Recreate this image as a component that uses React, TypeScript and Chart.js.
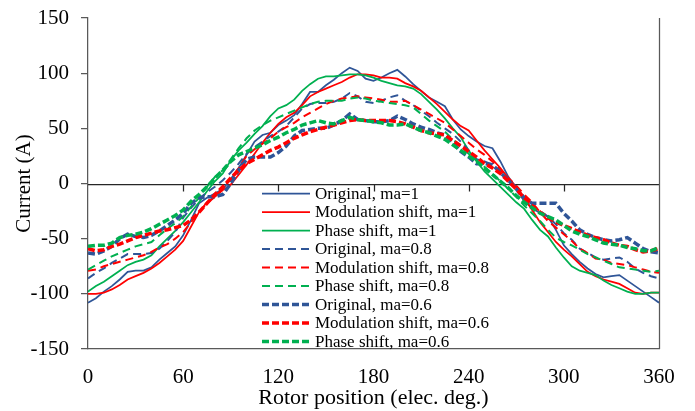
import React, { useEffect, useRef } from "react";
import { Chart, registerables } from "chart.js";

Chart.register(...registerables);

// Rotor position (elec. deg.)
const angles = [
  0, 5, 10, 15, 20, 25, 30, 35, 40, 45, 50, 55, 60, 65, 70, 75, 80, 85, 90, 95,
  100, 105, 110, 115, 120, 125, 130, 135, 140, 145, 150, 155, 160, 165, 170, 175,
  180, 185, 190, 195, 200, 205, 210, 215, 220, 225, 230, 235, 240, 245, 250, 255,
  260, 265, 270, 275, 280, 285, 290, 295, 300, 305, 310, 315, 320, 325, 330, 335,
  340, 345, 350, 355, 360,
];

const originalMa1 = [
  -108, -104, -98, -93, -87, -80, -79, -79, -76, -69, -63, -57, -47, -33, -18, -13, -9, -5, 4, 14,
  26, 38, 44, 46, 53, 57, 62, 72, 83, 83, 89, 94, 100, 105, 102, 95,
  93, 96, 100, 103, 97, 90, 84, 78, 74, 70, 58, 49, 43, 38, 34, 32,
  20, 6, -4, -16, -22, -27, -30, -42, -56, -64, -71, -77, -82, -85, -84, -83,
  -88, -93, -98, -103, -108,
];
const modulationMa1 = [
  -100, -100, -99, -96, -92, -87, -84, -81, -77, -72, -66, -60, -52, -39, -26, -17, -12, -6, -1, 8,
  17, 27, 37, 46, 54, 60, 64, 71, 79, 83, 86, 89, 92, 96, 99, 99,
  98, 96, 96, 95, 91, 88, 84, 78, 72, 65, 58, 52, 48, 39, 30, 22,
  14, 5, -3, -13, -24, -35, -44, -53, -60, -66, -73, -80, -84, -87, -89, -91,
  -95, -99, -100, -99, -99,
];
const phaseMa1 = [
  -98, -93, -89, -84, -79, -74, -71, -69, -65, -57, -50, -43, -35, -26, -17, -7, 2, 9, 21, 30,
  37, 45, 52, 61, 68, 71, 76, 84, 90, 95, 97, 97, 98, 99, 99, 98,
  96, 93, 91, 89, 88, 86, 81, 74, 67, 59, 50, 42, 30, 20, 11, 4,
  -3, -10, -17, -23, -33, -42, -48, -58, -67, -75, -79, -81, -83, -88, -92, -95,
  -98, -100, -100, -99, -99,
];
const originalMa08 = [
  -86, -81, -77, -72, -68, -64, -64, -64, -63, -59, -52, -44, -31, -22, -14, -8, -3, 3, 10, 18,
  27, 33, 38, 43, 47, 52, 60, 68, 72, 73, 73, 74, 77, 82, 79, 74,
  73, 75, 78, 80, 75, 71, 66, 61, 55, 50, 45, 38, 30, 22, 20, 17,
  10, 4, -3, -12, -20, -25, -30, -37, -45, -51, -59, -63, -67, -69, -68, -67,
  -71, -77, -81, -84, -86,
];
const modulationMa08 = [
  -79, -78, -75, -73, -71, -69, -67, -65, -62, -58, -55, -50, -44, -35, -26, -18, -12, -4, 4, 14,
  25, 31, 36, 41, 47, 51, 55, 60, 64, 68, 72, 75, 77, 78, 79, 78,
  77, 76, 74, 74, 75, 71, 67, 63, 59, 55, 49, 43, 37, 31, 26, 20,
  12, 5, -2, -10, -17, -26, -34, -40, -46, -52, -59, -63, -68, -69, -72, -73,
  -74, -76, -78, -80, -81,
];
const phaseMa08 = [
  -78, -74, -70, -66, -63, -60, -57, -55, -53, -47, -41, -36, -30, -21, -13, -3, 6, 12, 22, 32,
  41, 48, 53, 57, 60, 63, 66, 69, 72, 74, 75, 75, 75, 77, 78, 77,
  75, 74, 73, 72, 71, 69, 63, 57, 52, 47, 40, 34, 27, 21, 15, 9,
  2, -5, -12, -20, -27, -34, -42, -49, -53, -56, -60, -64, -67, -70, -73, -76,
  -77, -78, -79, -80, -79,
];
const originalMa06 = [
  -63, -64, -61, -57, -50, -46, -48, -49, -47, -43, -38, -33, -27, -18, -13, -12, -12, -10, 0, 12,
  22, 24, 24, 24, 28, 34, 43, 48, 49, 50, 50, 53, 57, 63, 58, 57,
  56, 56, 57, 61, 58, 54, 51, 49, 46, 44, 37, 29, 24, 18, 18, 17,
  10, 3, -5, -14, -18, -18, -18, -18, -27, -34, -42, -46, -49, -51, -52, -51,
  -49, -54, -59, -62, -63,
];
const modulationMa06 = [
  -59, -61, -60, -57, -55, -52, -49, -47, -45, -43, -42, -40, -38, -33, -26, -18, -10, -3, 5, 12,
  18, 22, 26, 30, 33, 37, 41, 44, 47, 49, 51, 53, 55, 57, 58, 57,
  57, 57, 57, 56, 54, 51, 48, 46, 45, 44, 39, 34, 29, 24, 18, 14,
  9, 2, -5, -13, -20, -26, -31, -35, -38, -41, -44, -47, -49, -51, -54, -56,
  -57, -60, -62, -61, -59,
];
const phaseMa06 = [
  -57, -56, -56, -54, -49, -47, -46, -44, -41, -37, -33, -29, -24, -16, -10, -3, 5, 12, 20, 26,
  29, 32, 35, 39, 42, 46, 49, 53, 55, 57, 55, 54, 57, 60, 58, 57,
  56, 55, 53, 53, 54, 51, 48, 46, 43, 40, 35, 30, 25, 20, 14, 8,
  2, -4, -11, -17, -22, -27, -30, -33, -38, -43, -46, -48, -51, -54, -55, -56,
  -58, -59, -61, -61, -58,
];

const seriesLabels = [
  "Original, ma=1",
  "Modulation shift, ma=1",
  "Phase shift, ma=1",
  "Original, ma=0.8",
  "Modulation shift, ma=0.8",
  "Phase shift, ma=0.8",
  "Original, ma=0.6",
  "Modulation shift, ma=0.6",
  "Phase shift, ma=0.6",
];
const seriesValues = [
  originalMa1, modulationMa1, phaseMa1,
  originalMa08, modulationMa08, phaseMa08,
  originalMa06, modulationMa06, phaseMa06,
];

const xTicks = [0, 60, 120, 180, 240, 300, 360];
const yTicks = [-150, -100, -50, 0, 50, 100, 150];

const BLUE = "#2F5597";
const RED = "#FF0000";
const GREEN = "#00B050";
const colors = [BLUE, RED, GREEN, BLUE, RED, GREEN, BLUE, RED, GREEN];
const widths = [1.75, 1.75, 1.75, 2, 2, 2, 3.5, 3.5, 3.5];
const THIN_DASH = [8, 5];
const THICK_DASH = [7, 3];
const dashes = [[], [], [], THIN_DASH, THIN_DASH, THIN_DASH, THICK_DASH, THICK_DASH, THICK_DASH];

const SERIF = "'Liberation Serif', 'Times New Roman', serif";
const AXIS_COLOR = "#595959";

const framePlugin = {
  id: "frame",
  beforeDraw(chart: any) {
    const { ctx, width, height } = chart;
    ctx.save();
    ctx.fillStyle = "#ffffff";
    ctx.fillRect(0, 0, width, height);
    ctx.restore();
  },
  beforeDatasetsDraw(chart: any) {
    const { ctx, chartArea: a, scales } = chart;
    const y0 = Math.round(scales.y.getPixelForValue(0)) + 0.5;
    ctx.save();
    ctx.strokeStyle = "#262626";
    ctx.lineWidth = 1.25;
    ctx.beginPath();
    ctx.moveTo(a.left, y0);
    ctx.lineTo(a.right, y0);
    for (const t of xTicks) {
      if (t === xTicks[0] || t === xTicks[xTicks.length - 1]) continue;
      const px = Math.round(scales.x.getPixelForValue(t)) + 0.5;
      ctx.moveTo(px, y0);
      ctx.lineTo(px, y0 + 7);
    }
    ctx.stroke();
    ctx.strokeStyle = AXIS_COLOR;
    ctx.lineWidth = 1.25;
    ctx.beginPath();
    ctx.moveTo(Math.round(a.right) + 0.5, a.top);
    ctx.lineTo(Math.round(a.right) + 0.5, a.bottom);
    ctx.stroke();
    ctx.restore();
  },
  afterDraw(chart: any) {
    const { ctx } = chart;
    const x1 = 262;
    const x2 = 310;
    const tx = 315;
    const y0 = 193.5;
    const step = 18.5;
    ctx.save();
    ctx.font = `17px ${SERIF}`;
    ctx.fillStyle = "#000000";
    ctx.textBaseline = "middle";
    ctx.textAlign = "left";
    chart.data.datasets.forEach((ds: any, i: number) => {
      const y = y0 + i * step;
      ctx.strokeStyle = ds.borderColor;
      ctx.lineWidth = ds.borderWidth;
      ctx.setLineDash(ds.borderDash || []);
      ctx.beginPath();
      ctx.moveTo(x1, y);
      ctx.lineTo(x2, y);
      ctx.stroke();
      ctx.setLineDash([]);
      ctx.fillText(ds.label, tx, y + 1);
    });
    ctx.restore();
  },
};

export default function App() {
  const canvasRef = useRef<HTMLCanvasElement | null>(null);

  useEffect(() => {
    document.body.style.margin = "0";
    const canvas = canvasRef.current;
    if (!canvas) return;

    const datasets = seriesLabels.map((label, i) => ({
      label,
      data: angles.map((a, k) => ({ x: a, y: seriesValues[i][k] })),
      borderColor: colors[i],
      backgroundColor: colors[i],
      borderWidth: widths[i],
      borderDash: dashes[i],
      pointRadius: 0,
      tension: 0,
      fill: false,
      order: seriesLabels.length - i,
    }));

    const chart = new Chart(canvas, {
      type: "line",
      data: { datasets },
      options: {
        animation: false,
        responsive: false,
        devicePixelRatio: 1,
        layout: { padding: { top: 18, right: 36, left: 0, bottom: 0 } },
        plugins: {
          legend: { display: false },
          tooltip: { enabled: false },
        },
        scales: {
          x: {
            type: "linear",
            min: 0,
            max: 360,
            afterBuildTicks: (scale: any) => {
              scale.ticks = xTicks.map((v) => ({ value: v }));
            },
            afterFit: (scale: any) => {
              scale.height = 62;
              scale.paddingLeft = 0;
              scale.paddingRight = 0;
            },
            grid: { drawOnChartArea: false, drawTicks: false },
            border: { display: true, color: AXIS_COLOR, width: 1.25 },
            ticks: {
              color: "#000000",
              font: { family: SERIF, size: 21 },
              padding: 16,
              maxRotation: 0,
            },
            title: {
              display: true,
              text: "Rotor position (elec. deg.)",
              color: "#000000",
              font: { family: SERIF, size: 22 },
              padding: { top: 0, bottom: 0 },
            },
          },
          y: {
            type: "linear",
            min: -150,
            max: 150,
            afterBuildTicks: (scale: any) => {
              scale.ticks = yTicks.map((v) => ({ value: v }));
            },
            afterFit: (scale: any) => {
              scale.width = 88;
              scale.paddingTop = 0;
              scale.paddingBottom = 0;
            },
            grid: {
              drawOnChartArea: false,
              drawTicks: true,
              tickLength: 7,
              color: AXIS_COLOR,
              lineWidth: 1.25,
            },
            border: { display: true, color: AXIS_COLOR, width: 1.25 },
            ticks: {
              color: "#000000",
              font: { family: SERIF, size: 21 },
              padding: 12,
            },
            title: {
              display: true,
              text: "Current (A)",
              color: "#000000",
              font: { family: SERIF, size: 21 },
              padding: { top: 12, bottom: 0 },
            },
          },
        },
      },
      plugins: [framePlugin],
    } as any);

    return () => {
      chart.destroy();
    };
  }, []);

  return (
    <div style={{ width: 695, height: 411 }}>
      <canvas ref={canvasRef} width={695} height={411} style={{ display: "block" }} />
    </div>
  );
}
